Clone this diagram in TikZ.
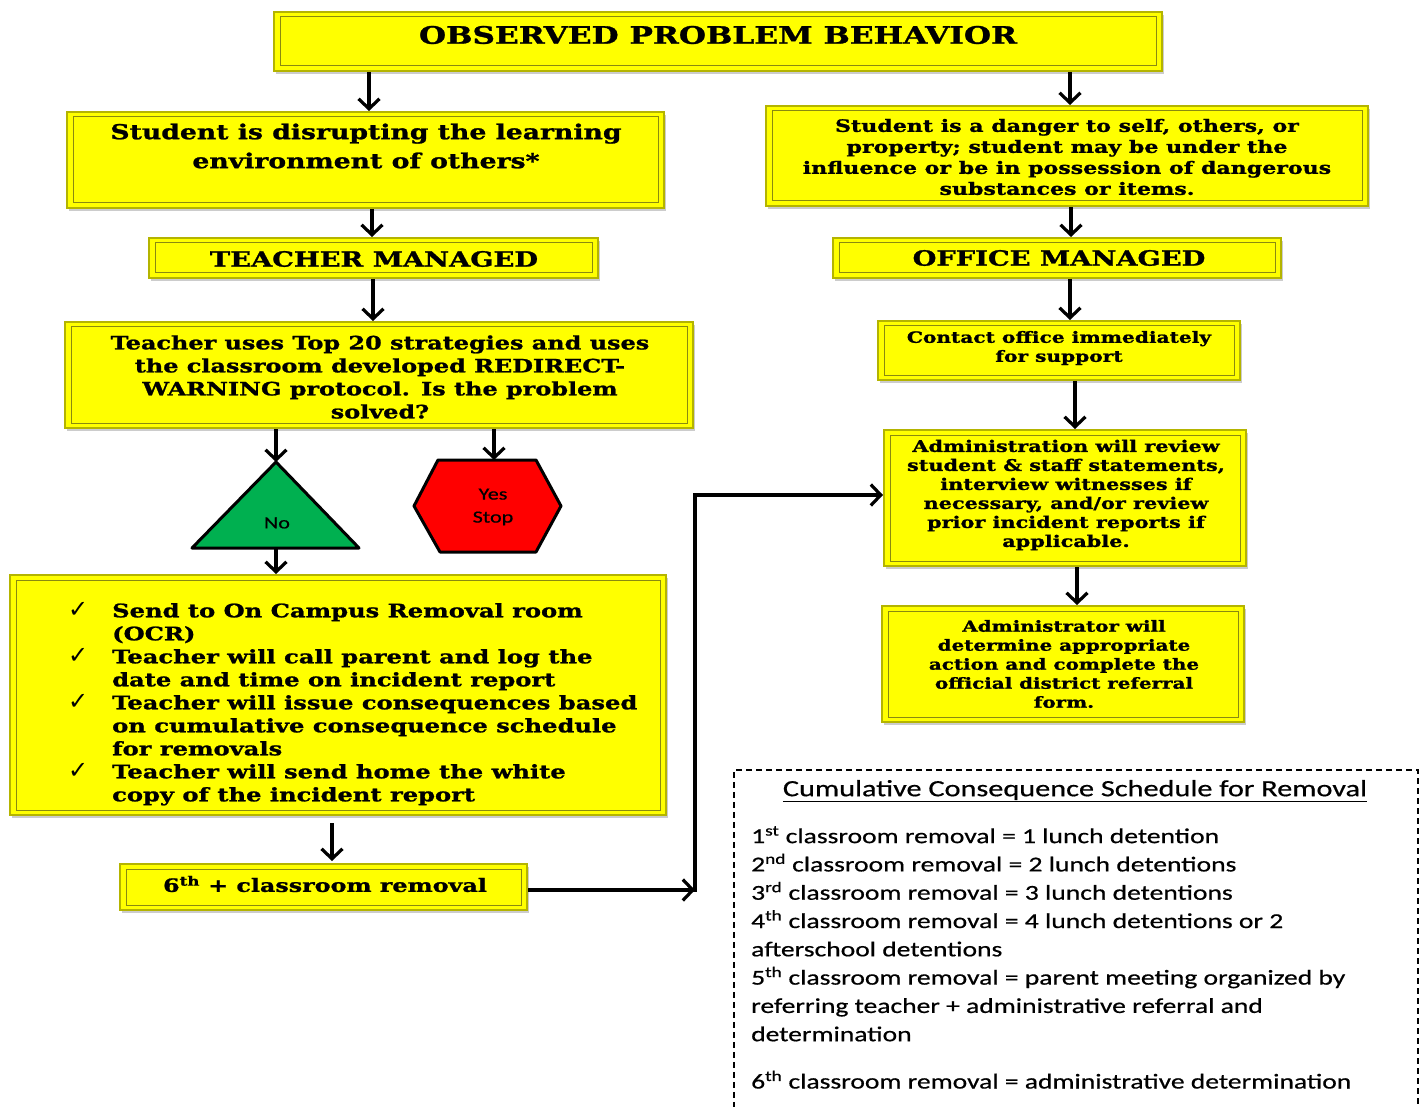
\documentclass[tikz,border=0pt]{standalone}
\usepackage{fontspec}
\usetikzlibrary{shadows,arrows.meta}
\newfontfamily\heavy{DejaVu Serif}[BoldFont={DejaVu Serif Bold}, BoldFeatures={FakeStretch=1.3, FakeBold=1.2}]
\newfontfamily\calib{Carlito}[FakeStretch=1.3, FakeBold=0.6]
\newfontfamily\djsans{DejaVu Sans}
\definecolor{yy}{HTML}{FFFF00}
\definecolor{bevA}{HTML}{B4B400}
\definecolor{bevB}{HTML}{8A8A10}
\definecolor{grn}{HTML}{00B050}
\definecolor{redd}{HTML}{FF0000}
\newcommand\fs[2]{\fontsize{#1}{#2}\selectfont}
\newcommand\ck{{\djsans\mdseries\fontsize{24}{19}\selectfont ✓}}
\newcommand\bev[1]{\draw[bevB, line width=1pt] ([xshift=7pt,yshift=-6pt]#1.north west) rectangle ([xshift=-7pt,yshift=6pt]#1.south east);}
\begin{document}
\begin{tikzpicture}[x=1pt,y=-1pt,
  ybox/.style={fill=yy, draw=bevA, line width=2pt, inner sep=0pt,
    drop shadow={shadow xshift=2pt, shadow yshift=-3pt, fill=black!40, opacity=0.5}},
  btxt/.style={align=center, inner sep=0pt},
  arr/.style={line width=3.5pt, -{Straight Barb[length=10pt,width=21pt,line width=3.2pt]}},
  shp/.style={draw=black, line width=3pt, line join=round}]
\useasboundingbox (0,0) rectangle (1422,1107);

% boxes
\node[ybox, minimum width=888pt, minimum height=59pt] (title) at (718,41.5) {}; \bev{title}
\node[ybox, minimum width=597pt, minimum height=96pt] (dis) at (365.5,160) {}; \bev{dis}
\node[ybox, minimum width=602pt, minimum height=100pt] (danger) at (1067,156) {}; \bev{danger}
\node[ybox, minimum width=449pt, minimum height=40pt] (tman) at (373.5,258) {}; \bev{tman}
\node[ybox, minimum width=448pt, minimum height=40pt] (oman) at (1057,258) {}; \bev{oman}
\node[ybox, minimum width=628pt, minimum height=106pt] (uses) at (379,375) {}; \bev{uses}
\node[ybox, minimum width=362pt, minimum height=59pt] (contact) at (1059,350.5) {}; \bev{contact}
\node[ybox, minimum width=362pt, minimum height=136pt] (review) at (1065,498) {}; \bev{review}
\node[ybox, minimum width=362pt, minimum height=116pt] (determ) at (1063,664) {}; \bev{determ}
\node[ybox, minimum width=656pt, minimum height=240pt] (list) at (338,695) {}; \bev{list}
\node[ybox, minimum width=407pt, minimum height=46pt] (sixth) at (323.5,887) {}; \bev{sixth}

% texts
\node[btxt, font=\heavy\bfseries\fs{24}{30}] (titleT) at (718,35) {OBSERVED PROBLEM BEHAVIOR};
\node[btxt, font=\heavy\bfseries\fs{20.5}{29}] (disT) at (366,146) {Student is disrupting the learning\\environment of others*};
\node[btxt, font=\heavy\bfseries\fs{17}{21}] (dangerT) at (1067,157) {Student is a danger to self, others, or\\property; student may be under the\\influence or be in possession of dangerous\\substances or items.};
\node[btxt, font=\heavy\bfseries\fs{21}{28}] (tmanT) at (374,259) {TEACHER MANAGED};
\node[btxt, font=\heavy\bfseries\fs{21}{28}] (omanT) at (1059,258) {OFFICE MANAGED};
\node[btxt, font=\heavy\bfseries\fs{18.4}{23}] (usesT) at (380,377) {Teacher uses Top 20 strategies and uses\\the classroom developed REDIRECT-\\WARNING protocol. Is the problem\\solved?};
\node[btxt, font=\heavy\bfseries\fs{15.5}{19}] (contactT) at (1059,348) {Contact office immediately\\for support};
\node[btxt, font=\heavy\bfseries\fs{16}{19}] (reviewT) at (1066,495) {Administration will review\\student \& staff statements,\\interview witnesses if\\necessary, and/or review\\prior incident reports if\\applicable.};
\node[btxt, font=\heavy\bfseries\fs{15.3}{19}] (determT) at (1064,664) {Administrator will\\determine appropriate\\action and complete the\\official district referral\\form.};
\node[anchor=north west, inner sep=0pt, font=\heavy\bfseries\fs{18.6}{23}] (listT) at (68,601) {%
\begin{tabular}{@{}p{44pt}@{}l@{}}
\ck & Send to On Campus Removal room\\
    & (OCR)\\
\ck & Teacher will call parent and log the\\
    & date and time on incident report\\
\ck & Teacher will issue consequences based\\
    & on cumulative consequence schedule\\
    & for removals\\
\ck & Teacher will send home the white\\
    & copy of the incident report
\end{tabular}};
\node[btxt, font=\heavy\bfseries\fs{18.3}{23}] (sixthT) at (325,884) {6\textsuperscript{th} + classroom removal};

% decision shapes
\coordinate (triTop) at (276,462);
\coordinate (triBot) at (276,548);
\filldraw[shp, fill=grn] (triTop) -- (359,548) -- (192,548) -- cycle;
\node[font=\calib\fs{17}{20}] (noT) at (277,523) {No};
\coordinate (hexTop) at (494,460);
\filldraw[shp, fill=redd] (438,460) -- (536,460) -- (561,506) -- (536,552) -- (440,552) -- (414,506) -- cycle;
\node[align=center, font=\calib\fs{17}{23}] (hexT) at (493,507) {Yes\\Stop};

% schedule
\node[draw, dash pattern=on 6pt off 4pt, line width=1.5pt, minimum width=684pt, minimum height=360pt, anchor=north west, inner sep=0pt] (sched) at (733,769) {};
\node[font=\calib\fs{23.3}{26}, inner sep=0pt] (schedT) at (1075,791) {\underline{Cumulative Consequence Schedule for Removal}};
\node[anchor=north west, align=left, inner sep=0pt, font=\calib\fs{21.2}{28.3}] (schedL) at (751,826) {%
1\textsuperscript{st} classroom removal = 1 lunch detention\\
2\textsuperscript{nd} classroom removal = 2 lunch detentions\\
3\textsuperscript{rd} classroom removal = 3 lunch detentions\\
4\textsuperscript{th} classroom removal = 4 lunch detentions or 2\\
afterschool detentions\\
5\textsuperscript{th} classroom removal = parent meeting organized by\\
referring teacher + administrative referral and\\
determination\\[19pt]
6\textsuperscript{th} classroom removal = administrative determination};

% connectors
\draw[arr] (title.south -| 369,0) -- (dis.north -| 369,0);
\draw[arr] (title.south -| 1070,0) -- (danger.north -| 1070,0);
\draw[arr] (dis.south -| 372,0) -- (tman.north -| 372,0);
\draw[arr] (danger.south -| 1071,0) -- (oman.north -| 1071,0);
\draw[arr] (tman.south -| 373,0) -- (uses.north -| 373,0);
\draw[arr] (oman.south -| 1070,0) -- (contact.north -| 1070,0);
\draw[arr] (uses.south -| triTop) -- (triTop);
\draw[arr] (uses.south -| hexTop) -- (hexTop);
\draw[arr] (triBot) -- (list.north -| triBot);
\draw[arr] (contact.south -| 1075,0) -- (review.north -| 1075,0);
\draw[arr] (review.south -| 1077,0) -- (determ.north -| 1077,0);
\draw[arr] ([yshift=-7pt]list.south -| 332,0) -- ([yshift=2pt]sixth.north -| 332,0);
\coordinate (elb) at (695,890);
\coordinate (elt) at (695,495);
\draw[arr] (sixth.east |- elb) -- (elb);
\draw[arr] ([yshift=-2pt]elb) -- (elt) -- (review.west |- elt);
\end{tikzpicture}
\end{document}
